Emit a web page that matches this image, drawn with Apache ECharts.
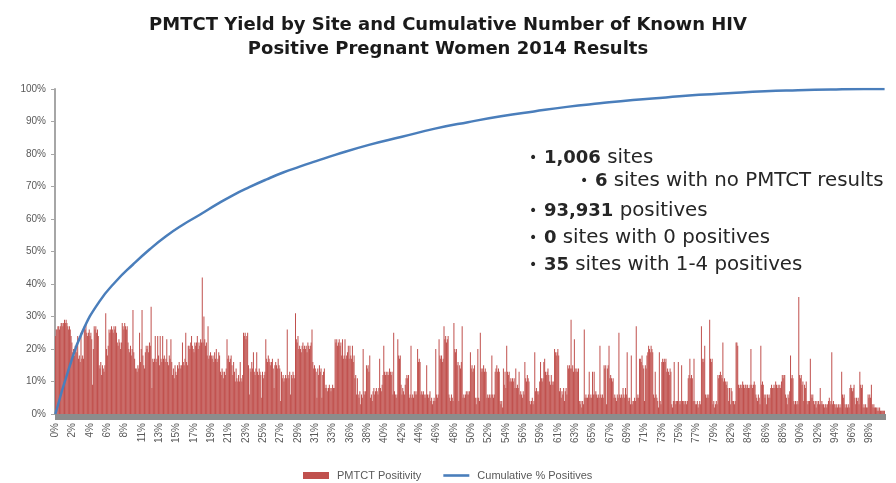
<!DOCTYPE html>
<html>
<head>
<meta charset="utf-8">
<script src="https://cdn.jsdelivr.net/npm/echarts@6/dist/echarts.min.js"></script>
<style>html,body{margin:0;padding:0;background:#fff}#c{width:896px;height:483px}</style>
</head>
<body>
<div id="c"></div>
<script>
// PMTCT positivity (%) per site, sorted by cumulative positives (1,006 sites)
const positivity = [
24,26,26,27,27,26,27,28,28,27,28,29,28,29,28,27,26,
27,26,24,
22,19,20,18,21,20,19,
24,17,18,16,25,17,18,17,
27,26,28,25,24,25,26,24,25,23,
9,20,
27,26,27,25,26,24,
15,14,16,12,15,14,13,15,
31,20,18,21,
26,25,26,27,26,25,27,26,27,25,
22,21,23,22,20,22,
28,27,26,28,27,26,27,
22,20,19,21,18,20,
32,19,17,14,
14,13,15,14,
25,16,20,32,18,15,14,19,
21,20,21,19,22,21,
33,8,17,16,
17,24,16,17,24,18,15,24,17,16,24,17,18,16,
17,23,16,15,18,17,23,16,
12,14,11,15,13,12,15,14,16,15,14,15,
22,16,15,17,25,16,15,21,
21,20,22,24,21,20,19,22,21,22,24,20,22,21,23,22,
42,22,30,23,21,22,
18,27,17,18,19,18,17,18,16,19,17,20,16,17,19,18,
13,12,14,13,11,13,12,14,
23,17,18,16,17,18,
15,12,16,13,10,14,11,10,12,10,16,11,10,12,
25,24,25,23,24,25,
15,6,14,13,16,14,19,13,12,14,19,13,12,14,
13,12,5,13,11,12,13,
23,17,16,18,17,16,
15,16,17,14,8,15,16,15,14,17,15,14,4,13,
11,12,10,11,12,11,
26,12,11,13,6,12,11,13,12,11,
31,23,22,24,
20,21,20,19,21,22,20,21,20,21,19,22,21,20,21,22,
26,16,14,15,
14,13,5,14,12,15,13,14,5,12,13,14,
8,9,8,7,8,9,8,7,8,9,8,8,
23,22,23,21,22,23,21,22,
18,23,17,18,23,17,18,19,
21,17,21,18,17,21,16,18,
11,12,6,11,
6,5,7,3,6,5,
20,7,6,7,
15,14,15,13,
18,5,6,4,
7,8,6,7,8,7,6,8,
17,8,7,9,
12,21,13,12,13,12,
13,12,14,13,12,13,
6,25,7,6,5,6,
23,18,17,18,
9,6,8,7,6,9,
11,12,11,12,
5,6,21,5,6,5,
7,6,7,6,
20,16,17,16,
6,7,6,7,6,5,
6,15,6,5,6,7,
4,5,3,4,5,4,
20,6,5,6,
23,18,17,18,16,17,
27,23,24,22,23,24,
6,5,4,6,5,4,
28,20,19,20,
15,16,4,15,14,16,
27,5,6,5,
6,7,6,7,6,7,
19,14,15,13,14,15,
5,3,5,20,5,4,
25,14,13,14,15,13,14,13,
5,6,5,6,5,6,
18,6,5,6,
13,14,15,13,14,13,
4,3,4,2,
14,9,13,8,
21,13,12,13,
10,11,10,11,10,11,
8,14,8,9,8,13,
6,7,6,5,7,6,
16,11,10,12,11,10,
4,3,4,5,3,4,
19,7,8,7,6,7,
10,16,11,10,11,16,
17,13,12,13,14,12,
10,9,12,10,9,10,
20,19,18,19,20,18,
7,8,5,7,6,8,4,7,8,6,
15,14,15,14,
29,14,15,13,
23,14,13,14,13,14,
4,3,4,2,4,3,
26,5,6,5,
5,6,13,5,6,5,13,6,
13,6,7,6,5,6,
5,21,6,5,6,5,
15,14,15,3,14,15,
21,11,12,11,10,11,
5,6,5,4,6,5,
25,6,5,6,
5,8,6,5,8,6,
19,5,4,5,
3,18,3,4,
4,5,4,27,
5,6,5,17,
17,16,18,15,
14,4,15,14,
18,19,21,20,19,21,20,19,
6,5,13,6,5,4,
2,19,4,3,
16,17,16,17,16,17,
13,14,13,12,14,13,
3,2,
4,16,4,3,4,4,16,4,3,4,15,4,
4,3,4,4,3,4,
11,12,17,11,12,11,
4,17,4,3,
3,4,2,3,4,3,
27,17,16,17,
21,6,5,6,5,6,
29,17,16,17,
3,4,2,3,4,3,
12,11,12,13,12,11,
22,10,11,10,9,10,
8,4,8,3,8,7,
4,4,3,4,
22,22,21,9,8,9,
9,8,10,9,8,9,9,8,9,8,8,9,
20,9,8,9,10,9,
6,5,4,6,5,3,
21,9,10,9,
6,5,6,3,6,5,6,5,
8,9,8,8,9,8,10,9,8,9,8,9,8,10,
12,11,12,12,
6,5,3,6,5,7,
18,11,12,11,
4,3,4,3,4,3,
36,12,11,12,
9,10,4,9,8,10,
4,3,4,4,
17,6,5,6,
4,3,4,2,4,3,4,3,
8,3,4,3,
3,2,3,3,2,3,
4,5,3,4,
19,3,4,3,
3,2,3,2,3,2,3,2,
13,6,5,6,
3,2,3,2,3,2,
8,9,8,7,8,9,
5,3,5,4,5,3,
13,9,8,9,
2,3,2,3,2,2,
6,5,6,5,
9,3,2,3,
2,2,2,1,2,1,2,1,
1,1,1,1,1
];

// Cumulative % of positives, read at sampled site positions
const cumSite = [0,17,33,53,74,94,114,134,155,175,195,215,235,256,276,296,316,340,380,420,460,500,540,580,620,660,700,740,780,820,860,900,940,980,1005];
const cumPct  = [0,14.5,25.5,34.5,41,46,50.6,54.7,58.3,61.3,64.4,67.3,69.8,72.2,74.3,76.1,77.8,79.8,82.8,85.3,87.8,89.8,91.6,93.1,94.5,95.6,96.6,97.4,98.2,98.8,99.3,99.6,99.85,100,100];

const siteCount = 1006;
// x category labels: cumulative share of sites
const categories = [];
for (let i = 0; i < siteCount; i++) categories.push(Math.round((i + 1) / siteCount * 100) + '%');

const seriesNames = ['PMTCT Positivity', 'Cumulative % Positives'];
const titleLines = ['PMTCT Yield by Site and Cumulative Number of Known HIV', 'Positive Pregnant Women 2014 Results'];
const notes = [
  {lvl: 1, bold: '1,006', rest: ' sites'},
  {lvl: 2, bold: '6', rest: ' sites with no PMTCT results'},
  {lvl: 1, bold: '93,931', rest: ' positives'},
  {lvl: 1, bold: '0', rest: ' sites with 0 positives'},
  {lvl: 1, bold: '35', rest: ' sites with 1-4 positives'}
];

const chart = echarts.init(document.getElementById('c'), null, {renderer: 'canvas'});
const noteTops = [146, 169, 199, 226, 253];
const graphics = notes.map((n, i) => ({
  type: 'text',
  left: n.lvl === 1 ? 529 : 580,
  top: noteTops[i] + 2,
  style: {
    text: '{d|•}  {b|' + n.bold + '}{r|' + n.rest + '}',
    fill: '#262626',
    rich: {
      d: { fontSize: 14, fontFamily: 'DejaVu Sans', fill: '#262626', verticalAlign: 'middle' },
      b: { fontWeight: 'bold', fontSize: 18, fontFamily: 'DejaVu Sans', fill: '#262626', verticalAlign: 'middle' },
      r: { fontSize: 19.8, fontFamily: 'DejaVu Sans', fill: '#262626', verticalAlign: 'middle' }
    }
  }
}));

chart.setOption({
  animation: false,
  backgroundColor: '#fff',
  title: {
    text: titleLines.join('\n'),
    left: 'center',
    top: 8,
    textStyle: { fontFamily: 'DejaVu Sans', fontWeight: 'bold', fontSize: 18, color: '#1a1a1a', lineHeight: 24 }
  },
  legend: {
    data: [
      {name: seriesNames[0], icon: 'rect'},
      {name: seriesNames[1], icon: 'path://M0,0H30V3H0Z'}
    ],
    left: 298,
    top: 465,
    itemWidth: 26,
    itemHeight: 7,
    itemGap: 22,
    textStyle: { fontFamily: 'Liberation Sans', fontSize: 11, color: '#595959', padding: [0, 0, 0, 3] }
  },
  grid: { left: 55, right: 11, top: 89, bottom: 69, containLabel: false },
  graphic: graphics,
  xAxis: {
    type: 'category',
    data: categories,
    boundaryGap: true,
    axisLine: { lineStyle: { color: '#8c8c8c', width: 1 } },
    axisTick: { show: true, interval: 0, length: 6, lineStyle: { color: '#8c8c8c' } },
    axisLabel: { interval: 20, rotate: 90, fontSize: 10, color: '#595959', fontFamily: 'Liberation Sans', margin: 9 }
  },
  yAxis: {
    type: 'value',
    min: 0, max: 100, interval: 10,
    splitLine: { show: false },
    axisLine: { show: true, lineStyle: { color: '#a6a6a6', width: 2 } },
    axisTick: { show: true, length: 4, lineStyle: { color: '#a6a6a6' } },
    axisLabel: { formatter: '{value}%', fontSize: 10, color: '#595959', fontFamily: 'Liberation Sans', margin: 9 }
  },
  series: [
    {
      name: seriesNames[0],
      type: 'bar',
      data: positivity,
      barCategoryGap: '10%',
      itemStyle: { color: '#C0504D' }
    },
    {
      name: seriesNames[1],
      type: 'line',
      data: cumSite.map((s, i) => [s, cumPct[i]]),
      smooth: true,
      symbol: 'none',
      lineStyle: { color: '#4A7EBB', width: 2.5 },
      itemStyle: { color: '#4A7EBB' },
      z: 5
    }
  ]
});
</script>
</body>
</html>
